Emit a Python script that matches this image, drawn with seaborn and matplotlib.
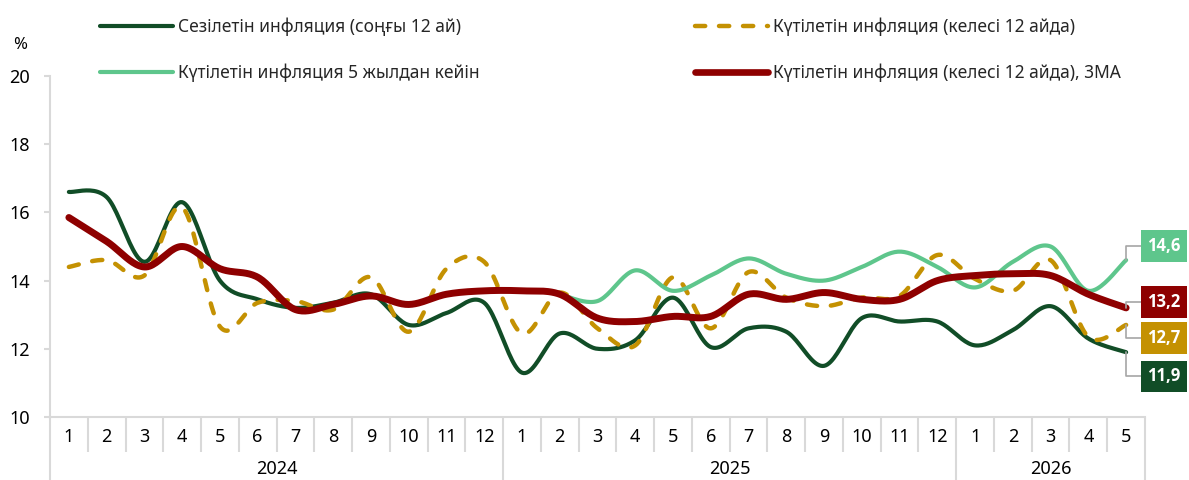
import numpy as np
import pandas as pd
import matplotlib
matplotlib.use("Agg")
import matplotlib.pyplot as plt
import seaborn as sns
from matplotlib.lines import Line2D
from matplotlib.transforms import blended_transform_factory

# ---------------- data ----------------
months = [1, 2, 3, 4, 5, 6, 7, 8, 9, 10, 11, 12,
          1, 2, 3, 4, 5, 6, 7, 8, 9, 10, 11, 12,
          1, 2, 3, 4, 5]
years = ["2024", "2025", "2026"]
year_lengths = [12, 12, 5]

perceived = [16.6, 16.45, 14.55, 16.3, 14.0, 13.45, 13.2, 13.35, 13.6, 12.7, 13.05, 13.35,
             11.3, 12.45, 12.0, 12.25, 13.5, 12.05, 12.6, 12.5, 11.5, 12.9, 12.8, 12.8,
             12.1, 12.55, 13.25, 12.3, 11.9]
expected_12m = [14.4, 14.6, 14.15, 16.15, 12.65, 13.35, 13.4, 13.15, 14.1, 12.5, 14.35, 14.55,
                12.45, 13.65, 12.6, 12.1, 14.1, 12.6, 14.25, 13.5, 13.25, 13.5, 13.55, 14.75,
                14.05, 13.7, 14.6, 12.35, 12.7]
expected_5y = [np.nan] * 13 + [13.6, 13.4, 14.3, 13.7, 14.15, 14.65, 14.2, 14.0, 14.4, 14.85, 14.4,
                               13.8, 14.55, 15.0, 13.7, 14.6]
expected_3ma = [15.85, 15.15, 14.4, 15.0, 14.35, 14.1, 13.15, 13.3, 13.55, 13.3, 13.6, 13.7,
                13.7, 13.6, 12.9, 12.8, 12.95, 12.95, 13.6, 13.45, 13.65, 13.45, 13.45, 14.0,
                14.15, 14.2, 14.15, 13.6, 13.2]

labels = ["Сезілетін инфляция (соңғы 12 ай)",
          "Күтілетін инфляция (келесі 12 айда)",
          "Күтілетін инфляция 5 жылдан кейін",
          "Күтілетін инфляция (келесі 12 айда), 3МА"]
colors = ["#114D27", "#C49102", "#5EC68C", "#8E0000"]
widths = [3.0, 3.2, 3.0, 5.0]


def smooth(x, y, n=24):
    """Excel-like smoothed line (Catmull-Rom Bezier) through the data points."""
    x = np.asarray(x, float)
    y = np.asarray(y, float)
    m = ~np.isnan(y)
    x, y = x[m], y[m]
    P = np.column_stack([x, y])
    out = []
    t = np.linspace(0, 1, n)[:, None]
    for i in range(len(P) - 1):
        p0 = P[i - 1] if i > 0 else P[i]
        p1, p2 = P[i], P[i + 1]
        p3 = P[i + 2] if i + 2 < len(P) else P[i + 1]
        c1 = p1 + (p2 - p0) / 6.0
        c2 = p2 - (p3 - p1) / 6.0
        seg = ((1 - t) ** 3) * p1 + 3 * ((1 - t) ** 2) * t * c1 + 3 * (1 - t) * t ** 2 * c2 + t ** 3 * p2
        out.append(seg if i == 0 else seg[1:])
    S = np.vstack(out)
    return pd.DataFrame({"x": S[:, 0], "y": S[:, 1]})


sns.set_theme(style="white")
plt.rcParams["font.family"] = ["Noto Sans", "DejaVu Sans"]

W, H = 1189, 480
fig = plt.figure(figsize=(W / 100, H / 100), dpi=100)
ax = fig.add_axes([50 / W, 1 - 417 / H, (1145 - 50) / W, (417 - 76) / H])

x = np.arange(len(months))
series = [perceived, expected_12m, expected_5y, expected_3ma]
for vals, c, lw in zip(series, colors, widths):
    df = smooth(x, vals)
    sns.lineplot(data=df, x="x", y="y", ax=ax, color=c, linewidth=lw, sort=False,
                 estimator=None)
    ln = ax.lines[-1]
    ln.set_solid_capstyle("round")
    ln.set_solid_joinstyle("round")
    if c == colors[1]:
        ln.set_dashes((2.3, 3.1))
        ln.set_dash_capstyle("round")

ax.set_xlim(-0.5, len(months) - 0.5)
ax.set_ylim(10, 20)
ax.set_yticks([10, 12, 14, 16, 18, 20])
ax.set_xlabel("")
ax.set_ylabel("")
ax.set_xticks([])
axis_grey = "#D9D9D9"
for s in ["top", "right"]:
    ax.spines[s].set_visible(False)
for s in ["left", "bottom"]:
    ax.spines[s].set_visible(True)
    ax.spines[s].set_color(axis_grey)
    ax.spines[s].set_linewidth(1.5)
ax.tick_params(axis="y", left=True, length=4.3, width=1.5, color=axis_grey,
               pad=10, labelsize=13, labelcolor="#000000", direction="out")
ax.grid(False)

# multi-level category axis
tr = blended_transform_factory(ax.transData, ax.transAxes)
ax_h = 417 - 76
for i, m in enumerate(months):
    ax.text(i, -(437 - 417) / ax_h, str(m), transform=tr, ha="center", va="center",
            fontsize=13, color="#000000")
year_bounds = np.concatenate([[0], np.cumsum(year_lengths)]) - 0.5
for b in np.arange(-0.5, len(months)):
    deep = np.any(np.isclose(year_bounds, b))
    ax.plot([b, b], [0, -(480 - 417) / ax_h if deep else -(452 - 417) / ax_h],
            transform=tr, color=axis_grey, lw=1.5, clip_on=False, solid_capstyle="butt")
for k, yr in enumerate(years):
    cx = (year_bounds[k] + year_bounds[k + 1]) / 2
    ax.text(cx, -(469 - 417) / ax_h, yr, transform=tr, ha="center", va="center",
            fontsize=13, color="#000000")

fig.text(20 / W, 1 - 45 / H, "%", ha="center", va="center", fontsize=12, color="#000000")

# end-of-series value labels
offsets = [(38, -24), (38, -13), (38, 14), (38, 6)]
for vals, c, off in zip(series, colors, offsets):
    v = vals[-1]
    ax.annotate(f"{v:.1f}".replace(".", ","), xy=(x[-1], v), xytext=off,
                textcoords="offset pixels", ha="center", va="center",
                fontsize=12, fontweight="bold", color="white",
                family=["Open Sans", "DejaVu Sans"],
                bbox=dict(boxstyle="square,pad=0.4", fc=c, ec="none"),
                arrowprops=dict(arrowstyle="-", color="#A6A6A6", lw=1.2,
                                shrinkA=0, shrinkB=0,
                                connectionstyle="angle,angleA=180,angleB=90,rad=0"),
                annotation_clip=False)

# legend (two columns)
def handle(i):
    h = Line2D([], [], color=colors[i], lw=widths[i] if i != 3 else 4.8,
               solid_capstyle="round")
    if i == 1:
        h.set_dashes((2.3, 3.1))
        h.set_dash_capstyle("round")
    return h

leg_kw = dict(loc="upper left", frameon=False, fontsize=12.5, borderpad=0,
              handlelength=4.2, handletextpad=0.3, labelspacing=1.57,
              borderaxespad=0)
leg1 = fig.legend([handle(0), handle(2)], [labels[0], labels[2]],
                  bbox_to_anchor=(100 / W, 1 - 18 / H), **leg_kw)
leg2 = fig.legend([handle(1), handle(3)], [labels[1], labels[3]],
                  bbox_to_anchor=(695 / W, 1 - 18 / H), **leg_kw)

fig.savefig("out.png", dpi=100)
